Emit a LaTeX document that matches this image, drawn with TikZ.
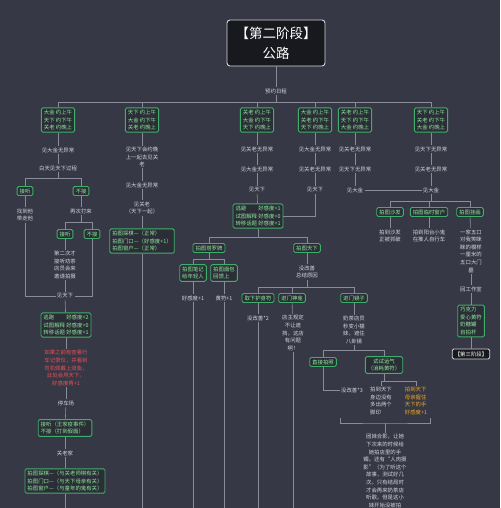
\documentclass[tikz,border=0pt]{standalone}
\usepackage{fontspec}
\setmainfont{Noto Sans CJK SC}
\usepackage{xcolor}
\usepackage{tikz}
\usetikzlibrary{positioning}

\definecolor{bgc}{HTML}{363845}
\definecolor{boxfill}{HTML}{2B2E37}
\definecolor{boxline}{HTML}{3FAE6A}
\definecolor{boxtxt}{HTML}{8FE79C}
\definecolor{lbltxt}{HTML}{D4D5DB}
\definecolor{linec}{HTML}{8A8D99}
\definecolor{redtxt}{HTML}{E8505A}
\definecolor{orgtxt}{HTML}{F0A624}
\newcommand{\tinycjk}{\fontsize{5.4}{7.6}\selectfont}

\begin{document}
\begin{tikzpicture}[
      x=1pt, y=-1pt,
      box/.style={draw=boxline, fill=boxfill, rounded corners=1.5pt, line width=0.9pt,
                  text=boxtxt, font=\tinycjk, align=left, inner xsep=2.5pt, inner ysep=2pt},
      lbl/.style={text=lbltxt, font=\tinycjk, align=center, inner sep=1.2pt},
      redlbl/.style={lbl, text=redtxt},
      orglbl/.style={lbl, text=orgtxt, align=left},
      rootbox/.style={draw=lbltxt, fill=black!45!boxfill, rounded corners=3pt, line width=0.9pt,
                  text=white, align=center, font=\fontsize{13.5}{20}\selectfont,
                  minimum width=98pt, minimum height=46pt},
      endbox/.style={draw=lbltxt, fill=black!45!boxfill, rounded corners=1.5pt, line width=0.8pt,
                  text=white, font=\tinycjk, inner sep=2.5pt},
      link/.style={draw=linec, line width=0.6pt}
    ]
    \fill[bgc] (0,0) rectangle (500,508);
    \useasboundingbox (0,0) rectangle (500,508);

    % root and day plans
    \node[rootbox] (root) at (276,43) {【第二阶段】\\公路};
    \node[lbl] (sched) at (276,91) {预约日程};
    \coordinate (bus) at (276,102);
    \node[box] (p1) at (58,120) {大金 约上午\\天下 约下午\\关老 约晚上};
    \node[box] (p2) at (142,120) {天下 约上午\\大金 约下午\\关老 约晚上};
    \node[box] (p3) at (257,120) {关老 约上午\\大金 约下午\\天下 约晚上};
    \node[box] (p4) at (315,120) {大金 约上午\\关老 约下午\\天下 约晚上};
    \node[box] (p5) at (355,120) {关老 约上午\\天下 约下午\\大金 约晚上};
    \node[box] (p6) at (431,120) {天下 约上午\\关老 约下午\\大金 约晚上};
    \draw[link] (root) -- (sched);
    \draw[link] (sched) -- (bus);
    \foreach \p in {p1,p2,p3,p4,p5,p6}
      \draw[link] (bus) -| (\p.north);

    % column 1
    \node[lbl] (c1a) at (58,150) {见大金无异常};
    \node[lbl] (c1b) at (58,168) {白天见天下过程};
    \coordinate (f1) at (58,178);
    \node[box] (c1y) at (25,191) {接听};
    \node[box] (c1n) at (81,191) {不接};
    \node[lbl] (c1yt) at (25,215) {找到他\\带走他};
    \node[lbl] (c1nt) at (81,211) {再次打来};
    \coordinate (f2) at (81,222);
    \node[box] (c1ny) at (65,234) {接听};
    \node[box] (c1nn) at (92,234) {不接};
    \node[lbl] (c1nyt) at (65,265) {第二次才\\接听劝茶\\店员会来\\邀请拍摄};
    \node[lbl] (c1m) at (65,296) {见天下};
    \node[box] (c1r) at (66,325) {逃跑　　 好感度+2\\试图解释 好感度+0\\转移话题 好感度+1};
    \node[redlbl] (c1red) at (66,368) {如果之前有查看行\\车记录仪，并看到\\司机佩戴上双鱼，\\此处会甩天下。\\好感度再+1};
    \node[lbl] (c1park) at (66,403) {停车场};
    \node[box] (c1pb) at (65,428) {接听（王家疫事件）\\不接（打到假面）};
    \node[lbl] (c1home) at (65,453) {关老家};
    \node[box] (c1hb) at (65,481) {拍图探棋—（与关老师棋有关）\\拍图门口—（与天下母亲有关）\\拍图窗户—（与童年的鬼有关）};
    \draw[link] (p1) -- (c1a);
    \draw[link] (c1a) -- (c1b);
    \draw[link] (c1b) -- (f1);
    \draw[link] (f1) -| (c1y);
    \draw[link] (f1) -| (c1n);
    \draw[link] (c1y) -- (c1yt);
    \draw[link] (c1n) -- (c1nt);
    \draw[link] (c1nt) -- (f2);
    \draw[link] (f2) -| (c1ny);
    \draw[link] (f2) -| (c1nn);
    \draw[link] (c1ny) -- (c1nyt);
    \draw[link] (c1nyt) -- (c1m);
    \draw[link] (c1yt) |- (c1m);
    \draw[link] (c1nn) |- (c1m);
    \draw[link] (c1m) -- (c1r);
    \draw[link] (c1r) -- (c1red);
    \draw[link] (c1red) -- (c1park);
    \draw[link] (c1park) -- (c1pb);
    \draw[link] (c1pb) -- (c1home);
    \draw[link] (c1home) -- (c1hb);
    \draw[link] (c1hb.south) -- (65,508);

    % column 2
    \node[lbl] (c2a) at (142,157) {见天下会约晚\\上一起去见关\\老};
    \node[lbl] (c2b) at (142,185) {见大金无异常};
    \node[lbl] (c2c) at (142,208) {见关老\\（天下一起）};
    \node[box] (c2d) at (142,241) {拍图探棋—（正常）\\拍图门口—（好感度+1）\\拍图窗户—（正常）};
    \draw[link] (p2) -- (c2a);
    \draw[link] (c2a) -- (c2b);
    \draw[link] (c2b) -- (c2c);
    \draw[link] (c2c) -- (c2d);
    \draw[link] (c2d.south) -- (142,508);

    % columns 3 and 4
    \node[lbl] (c3a) at (257,149) {见关老无异常};
    \node[lbl] (c3b) at (257,169) {见大金无异常};
    \node[lbl] (c3c) at (257,190) {见天下};
    \node[lbl] (c4a) at (315,149) {见大金无异常};
    \node[lbl] (c4b) at (315,169) {见关老无异常};
    \node[lbl] (c4c) at (315,190) {见天下};
    \node[box] (c3d) at (258,216) {逃避　　 好感度+1\\试图解释 好感度+0\\转移话题 好感度+1};
    \draw[link] (p3) -- (c3a);
    \draw[link] (c3a) -- (c3b);
    \draw[link] (c3b) -- (c3c);
    \draw[link] (c3c) -- (c3d);
    \draw[link] (p4) -- (c4a);
    \draw[link] (c4a) -- (c4b);
    \draw[link] (c4b) -- (c4c);
    \draw[link] (c4c) |- (c3d);

    \coordinate (f3) at (258,237);
    \node[box] (t1) at (209,248) {拍图塔罗牌};
    \node[box] (t2) at (307,248) {拍图天下};
    \draw[link] (c3d) -- (f3);
    \draw[link] (f3) -| (t1);
    \draw[link] (f3) -| (t2);

    \coordinate (f4) at (209,259);
    \node[box] (t1a) at (193,273) {拍图笔记\\给年轻人};
    \node[box] (t1b) at (224,273) {拍图面包\\回馈上};
    \node[lbl] (t1at) at (193,298) {好感度+1};
    \node[lbl] (t1bt) at (224,298) {黄符+1};
    \draw[link] (t1) -- (f4);
    \draw[link] (f4) -| (t1a);
    \draw[link] (f4) -| (t1b);
    \draw[link] (t1a) -- (t1at);
    \draw[link] (t1b) -- (t1bt);
    \draw[link] (t1at.south) -- (193,508);
    \draw[link] (t1bt.south) -- (224,508);

    \node[lbl] (t2a) at (307,272) {没改善\\总结原因};
    \coordinate (f5) at (307,287);
    \node[box] (k1) at (258,298) {取下护身符};
    \node[box] (k2) at (292,298) {进门神龛};
    \node[box] (k3) at (354,298) {进门镜子};
    \draw[link] (t2) -- (t2a);
    \draw[link] (t2a) -- (f5);
    \draw[link] (f5) -| (k1);
    \draw[link] (f5) -| (k2);
    \draw[link] (f5) -| (k3);
    \node[lbl] (k1t) at (258,318) {没改善*2};
    \node[lbl] (k2t) at (293,333) {店主规定\\不让遮\\挡，这店\\有问题\\啊！};
    \node[lbl] (k3t) at (354,330) {奶茶店员\\秒变小猫\\妹，遮住\\八卦镜};
    \draw[link] (k1) -- (k1t);
    \draw[link] (k2) -- (k2t);
    \draw[link] (k3) -- (k3t);
    \draw[link] (k1t.south) -- (258,508);
    \draw[link] (k2t.south) -- (293,508);

    \coordinate (f6) at (354,350);
    \node[box] (s1) at (323,362) {直接拍照};
    \node[box, align=center] (s2) at (384,365) {试试运气\\（消耗黄符）};
    \draw[link] (k3t) -- (f6);
    \draw[link] (f6) -| (s1);
    \draw[link] (f6) -| (s2);
    \node[lbl] (s1t) at (352,390) {没改善*3};
    \draw[link] (s1) |- (s1t);
    \coordinate (f7) at (384,381);
    \node[lbl, align=left] (s2a) at (381,401) {拍到天下\\身边没有\\多出两个\\脚印};
    \node[orglbl] (s2b) at (416,401) {拍到天下\\母亲握住\\天下的手\\好感度+1};
    \draw[link] (s2) -- (f7);
    \draw[link] (f7) -| (s2a);
    \draw[link] (f7) -| (s2b);

    \coordinate (bl) at (340,418);
    \coordinate (br) at (430,418);
    \coordinate (jn) at (385,423);
    \draw[link] (bl) |- (jn) -| (br);
    \node[lbl] (fin) at (385,471) {团妹合影，让她\\下次来的时候给\\她拍店里的手\\镯。还有“人肉摄\\影”（为了听这个\\故事，测试好几\\次。只有结局时\\才会再来奶茶店\\听歌。但是这小\\妹开始没被拍};
    \draw[link] (jn) -- (fin);

    % columns 5 and 6
    \node[lbl] (c5a) at (355,149) {见关老无异常};
    \node[lbl] (c5b) at (355,169) {见天下无异常};
    \node[lbl] (c5c) at (355,190) {见大金};
    \node[lbl] (c6a) at (431,149) {见天下无异常};
    \node[lbl] (c6b) at (431,169) {见关老无异常};
    \node[lbl] (c6c) at (431,190) {见大金};
    \draw[link] (p5) -- (c5a);
    \draw[link] (c5a) -- (c5b);
    \draw[link] (c5b) -- (c5c);
    \draw[link] (p6) -- (c6a);
    \draw[link] (c6a) -- (c6b);
    \draw[link] (c6b) -- (c6c);
    \draw[link] (c5c) -- (c6c);

    \coordinate (f8) at (431,201);
    \node[box] (r1) at (390,212) {拍图沙发};
    \node[box] (r2) at (429,212) {拍图临时窗户};
    \node[box] (r3) at (470,212) {拍图挂画};
    \draw[link] (c6c) -- (f8);
    \draw[link] (f8) -| (r1);
    \draw[link] (f8) -| (r2);
    \draw[link] (f8) -| (r3);
    \node[lbl] (r1t) at (390,236) {拍到沙发\\正被抓破};
    \node[lbl] (r2t) at (429,236) {拍到阳台小鬼\\在推人自行车};
    \node[lbl] (r3t) at (471,251) {一家五口\\对我笑眯\\眯的模样\\一厘米的\\五口大门\\墓};
    \draw[link] (r1) -- (r1t);
    \draw[link] (r2) -- (r2t);
    \draw[link] (r3) -- (r3t);
    \node[lbl] (r3w) at (471,289) {回工作室};
    \node[box] (r3b) at (471,321) {巧克力\\爱心黄符\\奶糖罐\\自拍杆};
    \node[endbox] (next) at (471,354) {【第三阶段】};
    \draw[link] (r3t) -- (r3w);
    \draw[link] (r3w) -- (r3b);
    \draw[link] (r3b) -- (next);
  \end{tikzpicture}
\end{document}
